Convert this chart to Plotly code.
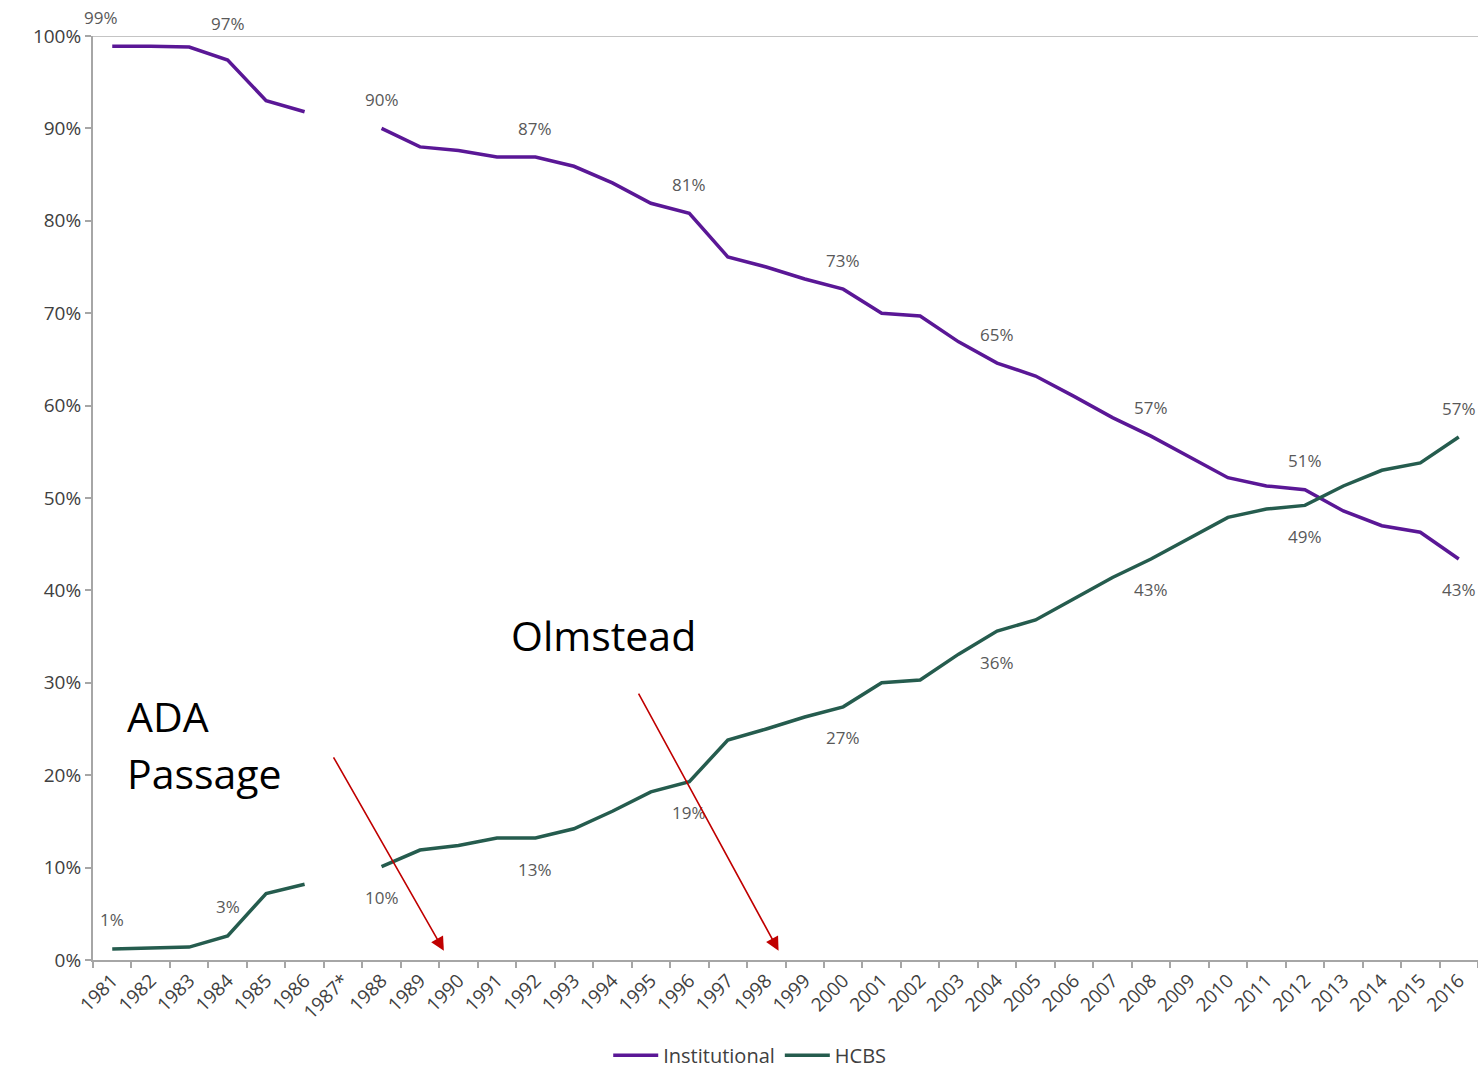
import plotly.graph_objects as go

# Share of long-term services spending by setting, 1981-2016
years = ["1981", "1982", "1983", "1984", "1985", "1986", "1987*", "1988", "1989", "1990",
         "1991", "1992", "1993", "1994", "1995", "1996", "1997", "1998", "1999", "2000",
         "2001", "2002", "2003", "2004", "2005", "2006", "2007", "2008", "2009", "2010",
         "2011", "2012", "2013", "2014", "2015", "2016"]

institutional = [98.9, 98.9, 98.8, 97.4, 93.0, 91.8, None, 90.0, 88.0, 87.6,
                 86.9, 86.9, 85.9, 84.1, 81.9, 80.8, 76.1, 75.0, 73.7, 72.6,
                 70.0, 69.7, 66.9, 64.6, 63.2, 61.0, 58.7, 56.7, 54.5, 52.2,
                 51.3, 50.9, 48.6, 47.0, 46.3, 43.4]

hcbs = [1.2, 1.3, 1.4, 2.6, 7.2, 8.2, None, 10.1, 11.9, 12.4,
        13.2, 13.2, 14.2, 16.1, 18.2, 19.3, 23.8, 25.0, 26.3, 27.4,
        30.0, 30.3, 33.1, 35.6, 36.8, 39.1, 41.4, 43.4, 45.7, 47.9,
        48.8, 49.2, 51.3, 53.0, 53.8, 56.6]

label_years = ["1981", "1984", "1988", "1992", "1996", "2000", "2004", "2008", "2012", "2016"]
inst_label_above = ["1981", "1984", "1988", "1992", "1996", "2000", "2004", "2008", "2012"]
hcbs_label_above = ["1981", "1984", "2016"]

y_ticks = [0, 10, 20, 30, 40, 50, 60, 70, 80, 90, 100]
y_tick_text = [f"{t}%" for t in y_ticks]

PURPLE = "#5A1796"
GREEN = "#255C4E"
LABEL_GRAY = "#595959"
TICK_GRAY = "#404040"
FONT = "Open Sans, sans-serif"

fig = go.Figure()
fig.add_trace(go.Scatter(x=years, y=institutional, mode="lines", name="Institutional",
                         line=dict(color=PURPLE, width=3.5), connectgaps=False))
fig.add_trace(go.Scatter(x=years, y=hcbs, mode="lines", name="HCBS",
                         line=dict(color=GREEN, width=3.5), connectgaps=False))

annotations = []
# value labels on selected years (category index used for x position)
for series, above_years in ((institutional, inst_label_above), (hcbs, hcbs_label_above)):
    for yr in label_years:
        idx = years.index(yr)
        v = series[idx]
        above = yr in above_years
        shift = 29 if above else -31
        xshift = 0
        if series is institutional and yr == "1981":
            xshift = -11
        if series is institutional and yr == "1984":
            shift = 37
        annotations.append(dict(
            x=idx, y=v, xref="x", yref="y", text=f"{v:.0f}%", showarrow=False,
            yshift=shift, xshift=xshift,
            font=dict(family=FONT, size=17, color=LABEL_GRAY)))

# event callouts with arrows pointing at the x axis
annotations += [
    dict(x=8.62, y=1.0, ax=5.73, ay=22.1, xref="x", yref="y", axref="x", ayref="y",
         text="", showarrow=True, arrowhead=2, arrowsize=1.7, arrowwidth=1.6, arrowcolor="#C00000"),
    dict(x=17.32, y=1.0, ax=13.66, ay=29.0, xref="x", yref="y", axref="x", ayref="y",
         text="", showarrow=True, arrowhead=2, arrowsize=1.7, arrowwidth=1.6, arrowcolor="#C00000"),
    dict(x=0.0231, y=0.2645, xref="paper", yref="paper", xanchor="left", yanchor="middle",
         text="ADA", showarrow=False, font=dict(family=FONT, size=41, color="black")),
    dict(x=0.0231, y=0.2025, xref="paper", yref="paper", xanchor="left", yanchor="middle",
         text="Passage", showarrow=False, font=dict(family=FONT, size=41, color="black")),
    dict(x=0.3, y=0.352, xref="paper", yref="paper", xanchor="left", yanchor="middle",
         text="Olmstead", showarrow=False, font=dict(family=FONT, size=41, color="black")),
]

fig.update_layout(
    width=1478, height=1069,
    margin=dict(l=93, r=0, t=36, b=109, autoexpand=False),
    paper_bgcolor="white", plot_bgcolor="white",
    font=dict(family=FONT, color=LABEL_GRAY),
    showlegend=True,
    legend=dict(orientation="h", x=0.372, y=-0.103, xanchor="left", yanchor="middle",
                font=dict(family=FONT, size=20, color=TICK_GRAY), itemwidth=45,
                tracegroupgap=0),
    annotations=annotations,
    shapes=[dict(type="line", xref="paper", yref="y", x0=0, x1=1, y0=100, y1=100,
                 line=dict(color="#C4C4C4", width=2), layer="below")],
)

fig.update_xaxes(type="category", categoryorder="array", categoryarray=years,
                 showgrid=False, showline=True, linecolor="#A6A6A6", linewidth=2,
                 ticks="outside", tickson="boundaries", ticklen=6, tickcolor="#A6A6A6",
                 tickwidth=2, tickangle=-45, tickfont=dict(family=FONT, size=19, color=TICK_GRAY),
                 range=[-0.5, len(years) - 0.5], zeroline=False, automargin=False)
fig.update_yaxes(range=[0, 100], tickvals=y_ticks, ticktext=y_tick_text,
                 showgrid=False, showline=True, linecolor="#A6A6A6", linewidth=2,
                 ticks="outside", ticklen=6, tickcolor="#A6A6A6", tickwidth=2,
                 tickfont=dict(family=FONT, size=19, color=TICK_GRAY), zeroline=False,
                 automargin=False)

fig.write_html("out.html")
